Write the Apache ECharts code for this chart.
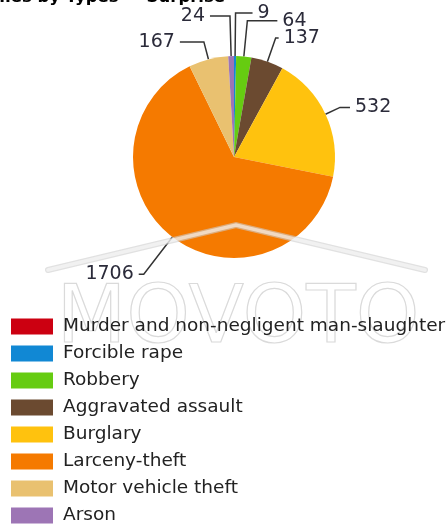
<!DOCTYPE html>
<html>
<head>
<meta charset="utf-8">
<script src="https://cdn.jsdelivr.net/npm/echarts@6/dist/echarts.min.js"></script>
<style>
  html, body { margin: 0; padding: 0; background: #fff; }
  #chart { width: 448px; height: 527px; }
</style>
</head>
<body>
<div id="chart"></div>
<script>
// crime counts by type
const categories = [
  "Murder and non-negligent man-slaughter",
  "Forcible rape",
  "Robbery",
  "Aggravated assault",
  "Burglary",
  "Larceny-theft",
  "Motor vehicle theft",
  "Arson",
];
const counts = [0, 9, 64, 137, 532, 1706, 167, 24];
const colors = ["#cc0011", "#1188d4", "#66cc11", "#6b4a30", "#ffc20e", "#f57a00", "#e9c170", "#9d75b5"];

// leader line [length, length2] per slice, tuned by eye
const leaderLines = [[0, 0], [43, 17], [36, 30], [25, 3], [16, 10], [47, 5], [18, 24], [40, 20]];

const chart = echarts.init(document.getElementById("chart"));

const pieData = categories.map((name, i) => {
  const item = {
    name,
    value: counts[i],
    labelLine: { length: leaderLines[i][0], length2: leaderLines[i][1] },
  };
  if (counts[i] === 0) {
    item.label = { show: false };
    item.labelLine = { show: false };
  }
  return item;
});

const roof = [[48, 270], [236, 225], [425, 270]];

chart.setOption({
  animation: false,
  color: colors,
  graphic: [
    {
      type: "text",
      x: 225,
      y: -2,
      style: {
        text: "Crimes by Types \u2014 Surprise",
        font: "bold 16.5px 'DejaVu Sans', sans-serif",
        align: "right",
        verticalAlign: "middle",
        fill: "#000",
      },
    },
    {
      type: "text",
      z: 1,
      x: 238,
      y: 280,
      style: {
        text: "MOVOTO",
        font: "81px 'DejaVu Sans', sans-serif",
        align: "center",
        verticalAlign: "top",
        fill: "none",
        stroke: "#dadada",
        lineWidth: 1.2,
      },
    },
    {
      type: "polyline",
      z: 10,
      shape: { points: roof },
      style: { stroke: "rgba(205,205,205,0.6)", lineWidth: 6, fill: "none", lineCap: "round" },
    },
    {
      type: "polyline",
      z: 11,
      shape: { points: roof },
      style: { stroke: "rgba(255,255,255,0.55)", lineWidth: 3.5, fill: "none", lineCap: "round" },
    },
  ],
  legend: {
    orient: "vertical",
    left: 11,
    top: 317,
    padding: 0,
    itemWidth: 42,
    itemHeight: 16,
    itemGap: 8,
    icon: "rect",
    textStyle: {
      fontSize: 18.5,
      lineHeight: 16,
      color: "#222",
      fontFamily: "'DejaVu Sans', sans-serif",
      padding: [0, 0, 0, 5],
    },
    data: categories,
  },
  series: [
    {
      type: "pie",
      center: [234, 157],
      radius: 101,
      startAngle: 90,
      clockwise: true,
      avoidLabelOverlap: false,
      labelLayout: { hideOverlap: false },
      label: {
        formatter: "{c}",
        fontSize: 19,
        lineHeight: 14,
        color: "#2b2b3a",
        fontFamily: "'DejaVu Sans', sans-serif",
      },
      labelLine: {
        lineStyle: { color: "#333", width: 1.5 },
      },
      emphasis: { disabled: true },
      data: pieData,
    },
  ],
});
</script>
</body>
</html>
